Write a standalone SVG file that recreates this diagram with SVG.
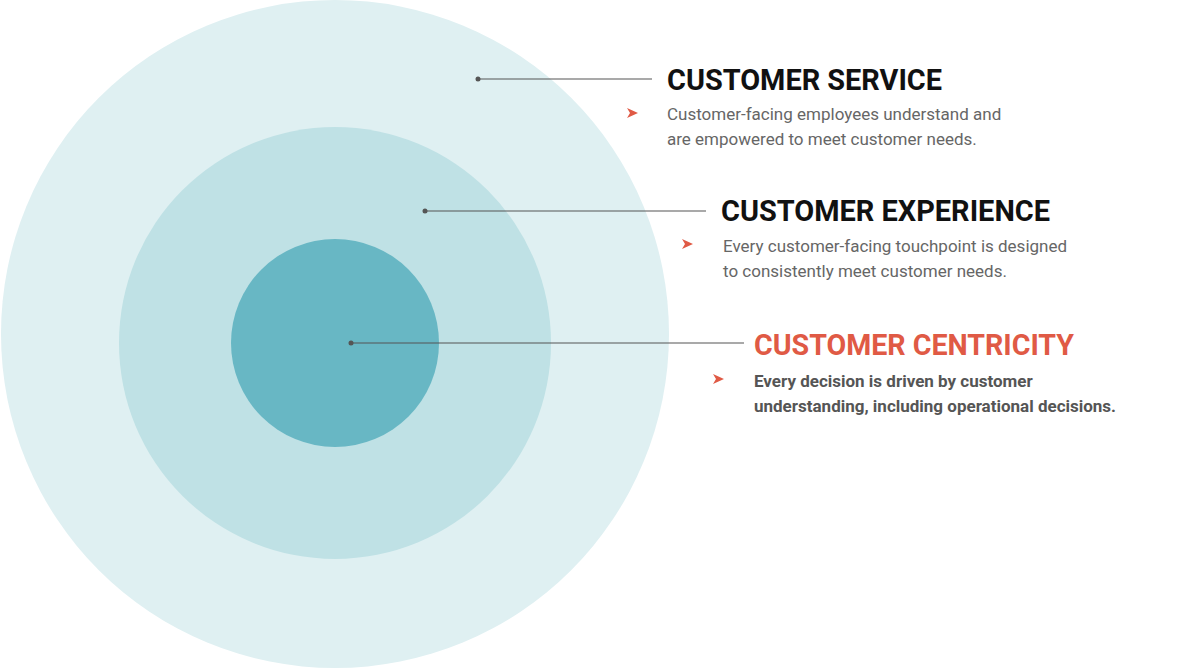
<svg xmlns="http://www.w3.org/2000/svg" width="1184" height="670" viewBox="0 0 1184 670">
<style>
.h{font-family:Roboto,"Liberation Sans",sans-serif;font-weight:bold;font-size:30px;fill:#111}
.b{font-family:Roboto,"Liberation Sans",sans-serif;font-size:17px;fill:#666}
.ln{stroke:#555;stroke-width:1.2}
.dot{fill:#555}
.ar{fill:#e05a45}
</style>
<defs><path id="arw" d="M0,-5 L11,0 L0,5 L3,0 Z"/></defs>
<g id="service-circle"><circle cx="335" cy="334" r="334" fill="#dff0f2"/></g>
<g id="experience-circle"><circle cx="335" cy="343" r="216" fill="#bfe1e5"/></g>
<g id="centricity-circle"><circle cx="335" cy="343" r="104" fill="#68b7c4"/></g>
<g id="connectors">
<line class="ln" x1="478" y1="79" x2="652" y2="79"/><circle class="dot" cx="478" cy="79" r="2.5"/>
<line class="ln" x1="425" y1="211" x2="706" y2="211"/><circle class="dot" cx="425" cy="211" r="2.5"/>
<line class="ln" x1="351" y1="343" x2="744" y2="343"/><circle class="dot" cx="351" cy="343" r="2.5"/>
</g>
<g id="service-label">
<text class="h" x="667" y="90" textLength="275" lengthAdjust="spacingAndGlyphs">CUSTOMER SERVICE</text>
<use href="#arw" class="ar" x="627" y="113"/>
<text class="b" x="667" y="120">Customer-facing employees understand and</text>
<text class="b" x="667" y="145">are empowered to meet customer needs.</text>
</g>
<g id="experience-label">
<text class="h" x="721" y="221" textLength="329" lengthAdjust="spacingAndGlyphs">CUSTOMER EXPERIENCE</text>
<use href="#arw" class="ar" x="682" y="244"/>
<text class="b" x="723" y="252">Every customer-facing touchpoint is designed</text>
<text class="b" x="723" y="277">to consistently meet customer needs.</text>
</g>
<g id="centricity-label">
<text class="h" x="754" y="355" textLength="320" lengthAdjust="spacingAndGlyphs" style="fill:#e05a45">CUSTOMER CENTRICITY</text>
<use href="#arw" class="ar" x="713" y="379"/>
<text class="b" x="754" y="387" style="font-weight:bold;fill:#555">Every decision is driven by customer</text>
<text class="b" x="754" y="412" style="font-weight:bold;fill:#555">understanding, including operational decisions.</text>
</g>
</svg>
